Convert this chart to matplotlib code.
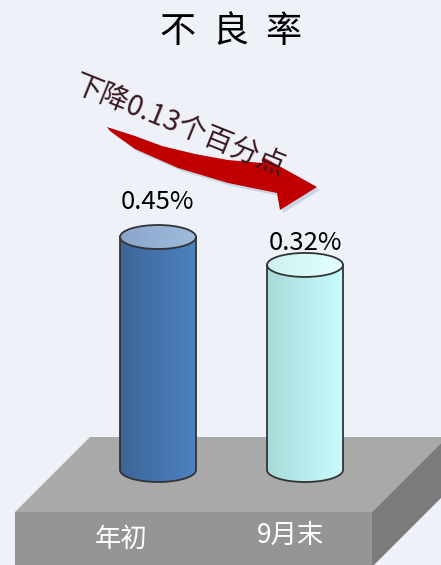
import numpy as np
import matplotlib.pyplot as plt
from matplotlib.patches import Polygon, Ellipse, Rectangle
from matplotlib.colors import LinearSegmentedColormap

plt.rcParams['font.family'] = ['Noto Sans CJK SC', 'DejaVu Sans']

categories = ["年初", "9月末"]
values = [0.45, 0.32]
value_labels = ["0.45%", "0.32%"]
title = "不良率"
note = "下降0.13个百分点"

BG = "#eef2f8"
W, H = 441, 565
PX = 215.0          # pixels per 1 unit of value
BASE_PX = 470       # pixel row of cylinder bottoms
VB = values[0] - (BASE_PX - 237) / PX   # value at cylinder bottom
RX, RY = 38, 12     # ellipse radii in pixels

fig = plt.figure(figsize=(W / 100, H / 100), dpi=100)
fig.patch.set_facecolor(BG)

ax = fig.add_axes([0, 0, 1, 1])
ax.set_xlim(0, W)
ax.set_ylim(H, 0)
ax.axis("off")

bx = fig.add_axes([0, 0, 1, 1])
bx.set_xlim(0, W)
bx.set_ylim(VB - (H - BASE_PX) / PX, VB + BASE_PX / PX)
bx.axis("off")
bx.patch.set_alpha(0)

# platform
ax.add_patch(Polygon([(15, 512), (372, 512), (447, 437), (90, 437)], closed=True, fc="#a9a9a9", ec="none"))
ax.add_patch(Polygon([(372, 512), (447, 437), (447, 492), (372, 567)], closed=True, fc="#7b7b7b", ec="none"))
ax.add_patch(Rectangle((15, 512), 357, 60, fc="#959595", ec="none"))

label_x = [121, 291]
label_y = [539, 535]
for cat, lx, ly in zip(categories, label_x, label_y):
    ax.text(lx, ly, cat, color="white", fontsize=19, ha="center", va="center")

# cylinders
xs = [158, 305]
body_cols = [("#3d6597", "#4c82c0"), ("#a8dada", "#c8fcfc")]
top_cols = [("#8aa6ca", "#9fbbde"), ("#cdf2f2", "#e4ffff")]
ry = RY / PX
grad = np.linspace(0, 1, 64).reshape(1, -1)
for x, v, bc, tc in zip(xs, values, body_cols, top_cols):
    t = np.linspace(np.pi, 2 * np.pi, 40)
    arc = np.column_stack([x + RX * np.cos(t), VB + ry * np.sin(t)])
    pts = np.vstack([[(x - RX, v)], arc, [(x + RX, v)]])
    body = Polygon(pts, closed=True, fc="none", ec="#333333", lw=1.3, zorder=3)
    bx.add_patch(body)
    im = bx.imshow(grad, cmap=LinearSegmentedColormap.from_list("b", bc), aspect="auto",
                   extent=(x - RX, x + RX, VB - ry, v), zorder=2)
    im.set_clip_path(body)
    top = Ellipse((x, v), 2 * RX, 2 * ry, fc="none", ec="#333333", lw=1.3, zorder=5)
    bx.add_patch(top)
    im2 = bx.imshow(grad, cmap=LinearSegmentedColormap.from_list("t", tc), aspect="auto",
                    extent=(x - RX, x + RX, v - ry, v + ry), zorder=4)
    im2.set_clip_path(top)

offs = [35, 22]
for x, v, lab, o in zip(xs, values, value_labels, offs):
    bx.annotate(lab, (x, v), xytext=(0, o * 0.72), textcoords="offset points",
                ha="center", va="center", fontsize=18.5, color="black")

# title, one glyph at a time to get the wide spacing
for i, ch in enumerate(title):
    ax.text(177 + 53 * i, 32, ch, fontsize=26, ha="center", va="center", color="black")

# arrow
arrow = [(107, 127), (135, 136), (162, 146), (195, 154), (228, 160), (262, 163), (263, 157),
         (317, 187), (280, 210), (277, 193), (228, 183), (178, 168), (135, 149), (110, 131)]
shadow = [(px + 3, py + 3) for px, py in arrow]
ax.add_patch(Polygon(shadow, closed=True, fc="#c9d5e6", ec="none", zorder=3))
ax.add_patch(Polygon(arrow, closed=True, fc="#c00000", ec="none", zorder=4))
ax.text(179, 126, note, fontsize=20.5, rotation=-22, rotation_mode="anchor",
        ha="center", va="center", color="#3a1820", zorder=5)

fig.savefig("out.png", dpi=100, facecolor=BG)
